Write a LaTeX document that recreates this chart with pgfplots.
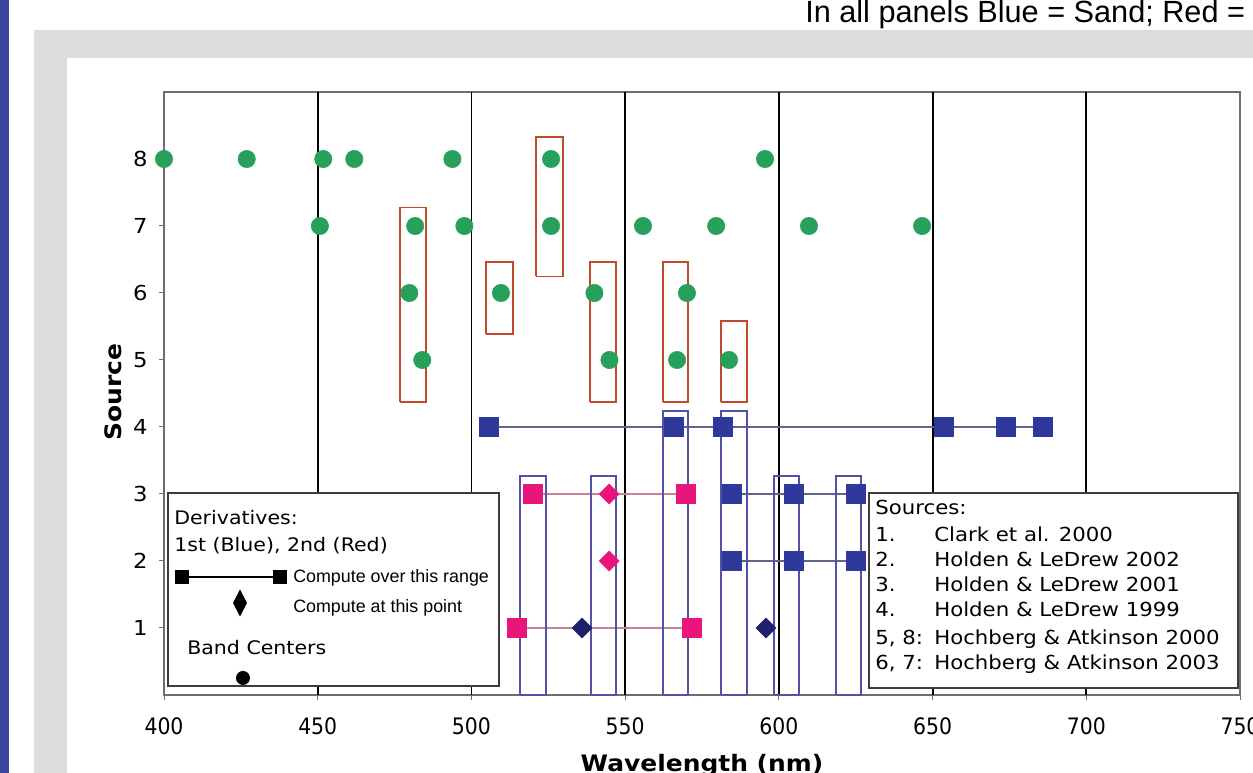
\documentclass[border=0pt]{standalone}
\usepackage{fontspec}
\setmainfont{DejaVu Sans}[FakeStretch=1.1]
\newfontfamily\arial{Liberation Sans}
\newfontfamily\cond{DejaVu Sans Condensed}
\usepackage{pgfplots}
\pgfplotsset{compat=1.18}
\definecolor{mgreen}{RGB}{38,160,90}
\definecolor{mblue}{RGB}{46,57,155}
\definecolor{mpink}{RGB}{232,22,122}
\definecolor{mnavy}{RGB}{30,34,110}
\definecolor{redrect}{RGB}{192,72,45}
\definecolor{bluerect}{RGB}{82,82,168}
\definecolor{pinkline}{RGB}{200,130,155}
\definecolor{blueline}{RGB}{100,100,135}
\definecolor{stripblue}{RGB}{58,71,158}
\definecolor{bggray}{RGB}{220,220,220}
\definecolor{framegray}{RGB}{110,110,110}
\definecolor{boxgray}{RGB}{60,60,60}
\newcommand{\rbox}[5]{\addplot[#1, line width=1.1pt, no marks, line join=miter] coordinates {(#2,#3) (#4,#3) (#4,#5) (#2,#5) (#2,#3)};}
\begin{document}
\begin{tikzpicture}[x=0.75pt,y=0.75pt]
\path[use as bounding box] (0,0) rectangle (1253,773);
\fill[white] (0,0) rectangle (1253,773);
\fill[stripblue] (0,0) rectangle (9,773);
\fill[bggray] (34,0) rectangle (1253,743);
\fill[white] (67,0) rectangle (1253,715);
\node[anchor=base west, inner sep=0, font=\arial\fontsize{23pt}{27pt}\selectfont] at (805,750) {In all panels Blue = Sand; Red =};
\begin{axis}[
  at={(123pt,58.5pt)}, anchor=south west, scale only axis,
  width=807pt, height=452.25pt,
  xmin=400, xmax=750, ymin=0, ymax=9,
  xtick={400,450,...,750}, ytick={1,...,8},
  tick align=outside, tick pos=left,
  major tick length=3.75pt,
  tick style={framegray, line width=0.75pt},
  axis line style={framegray, line width=0.9pt},
  /pgf/number format/assume math mode=true,
  xticklabel style={font=\cond\fontsize{17pt}{20pt}\selectfont, yshift=-10pt},
  yticklabel style={font=\fontsize{15.5pt}{18pt}\selectfont, xshift=-5pt},
  clip=false,
]
\pgfplotsinvokeforeach{450,500,550,600,650,700}{\draw[black, line width=1.4pt] (axis cs:#1,0) -- (axis cs:#1,9);}
% band centers
\addplot[only marks, mark=*, mark size=6.5pt, mark options={fill=mgreen, draw=mgreen}] coordinates {
 (400,8) (426.9,8) (451.8,8) (461.9,8) (493.8,8) (525.9,8) (595.5,8)
 (450.7,7) (481.7,7) (497.7,7) (525.9,7) (555.8,7) (579.6,7) (609.8,7) (646.6,7)
 (479.8,6) (509.6,6) (540.0,6) (570.1,6)
 (484.0,5) (544.9,5) (566.9,5) (583.8,5)
};
% red boxes
\rbox{redrect}{476.8}{4.37}{485.2}{7.28}
\rbox{redrect}{504.7}{5.39}{513.5}{6.46}
\rbox{redrect}{521.0}{6.25}{529.8}{8.33}
\rbox{redrect}{538.6}{4.37}{547.0}{6.46}
\rbox{redrect}{562.3}{4.37}{570.5}{6.46}
\rbox{redrect}{581.2}{4.37}{589.6}{5.58}
% source 4
\addplot[blueline, line width=0.8pt, mark=square*, mark size=7.1pt, mark options={solid, fill=mblue, draw=mblue}] coordinates {(505.7,4) (565.9,4) (581.8,4) (653.7,4) (673.9,4) (686.0,4)};
% source 3 and 2, blue
\addplot[blueline, line width=0.8pt, mark=square*, mark size=7.1pt, mark options={solid, fill=mblue, draw=mblue}] coordinates {(584.8,3) (604.9,3) (625.1,3)};
\addplot[blueline, line width=0.8pt, mark=square*, mark size=7.1pt, mark options={solid, fill=mblue, draw=mblue}] coordinates {(584.8,2) (604.9,2) (625.1,2)};
% pink lines
\addplot[pinkline, line width=0.8pt, no marks] coordinates {(520.0,3) (569.8,3)};
\addplot[pinkline, line width=0.8pt, no marks] coordinates {(514.8,1) (571.8,1)};
\addplot[only marks, mark=square*, mark size=7.1pt, mark options={fill=mpink, draw=mpink}] coordinates {(520.0,3) (569.8,3) (514.8,1) (571.8,1)};
\addplot[only marks, mark=square*, mark size=5.3pt, mark options={rotate=45, fill=mpink, draw=mpink}] coordinates {(544.8,3) (544.8,2)};
\addplot[only marks, mark=square*, mark size=5.3pt, mark options={rotate=45, fill=mnavy, draw=mnavy}] coordinates {(536.0,1) (595.8,1)};
% blue boxes
\rbox{bluerect}{515.8}{0}{524.3}{3.27}
\rbox{bluerect}{538.9}{0}{547.0}{3.27}
\rbox{bluerect}{562.3}{0}{570.5}{4.24}
\rbox{bluerect}{581.2}{0}{589.6}{4.24}
\rbox{bluerect}{598.4}{0}{606.6}{3.27}
\rbox{bluerect}{618.6}{0}{626.7}{3.27}
\end{axis}
% axis labels
\node[rotate=90, anchor=center, font=\bfseries\fontsize{17pt}{20pt}\selectfont] at (113,381) {Source};
\node[anchor=base, inner sep=0, font=\bfseries\fontsize{17pt}{20pt}\selectfont] at (702,1) {Wavelength (nm)};
% left legend box
\draw[boxgray, line width=1.1pt, fill=white] (168,87) rectangle (499,280);
\begin{scope}[every node/.style={anchor=base west, inner sep=0, font=\fontsize{14pt}{17pt}\selectfont}]
\node at (174,248) {Derivatives:};
\node at (174,221) {1st (Blue), 2nd (Red)};
\node at (187,118) {Band Centers};
\end{scope}
\begin{scope}[every node/.style={anchor=base west, inner sep=0, font=\arial\fontsize{13.4pt}{16pt}\selectfont}]
\node at (293,190) {Compute over this range};
\node at (293,160) {Compute at this point};
\end{scope}
\draw[black, line width=0.9pt] (182,196) -- (280,196);
\fill[black] (175,189) rectangle (189,203);
\fill[black] (273,189) rectangle (287,203);
\fill[black] (240,183.5) -- (247,170) -- (240,156.5) -- (233,170) -- cycle;
\fill[black] (243,95) circle (7);
% right legend box
\draw[boxgray, line width=1.1pt, fill=white] (869,85) rectangle (1238,280);
\begin{scope}[every node/.style={anchor=base west, inner sep=0, font=\fontsize{14.5pt}{17pt}\selectfont}]
\node at (875,258) {Sources:};
\node at (875,231) {1.};   \node at (934,231) {Clark et al. 2000};
\node at (875,206) {2.};   \node at (934,206) {Holden \& LeDrew 2002};
\node at (875,181) {3.};   \node at (934,181) {Holden \& LeDrew 2001};
\node at (875,156) {4.};   \node at (934,156) {Holden \& LeDrew 1999};
\node at (875,128) {5, 8:}; \node at (934,128) {Hochberg \& Atkinson 2000};
\node at (875,103) {6, 7:}; \node at (934,103) {Hochberg \& Atkinson 2003};
\end{scope}
\end{tikzpicture}
\end{document}
